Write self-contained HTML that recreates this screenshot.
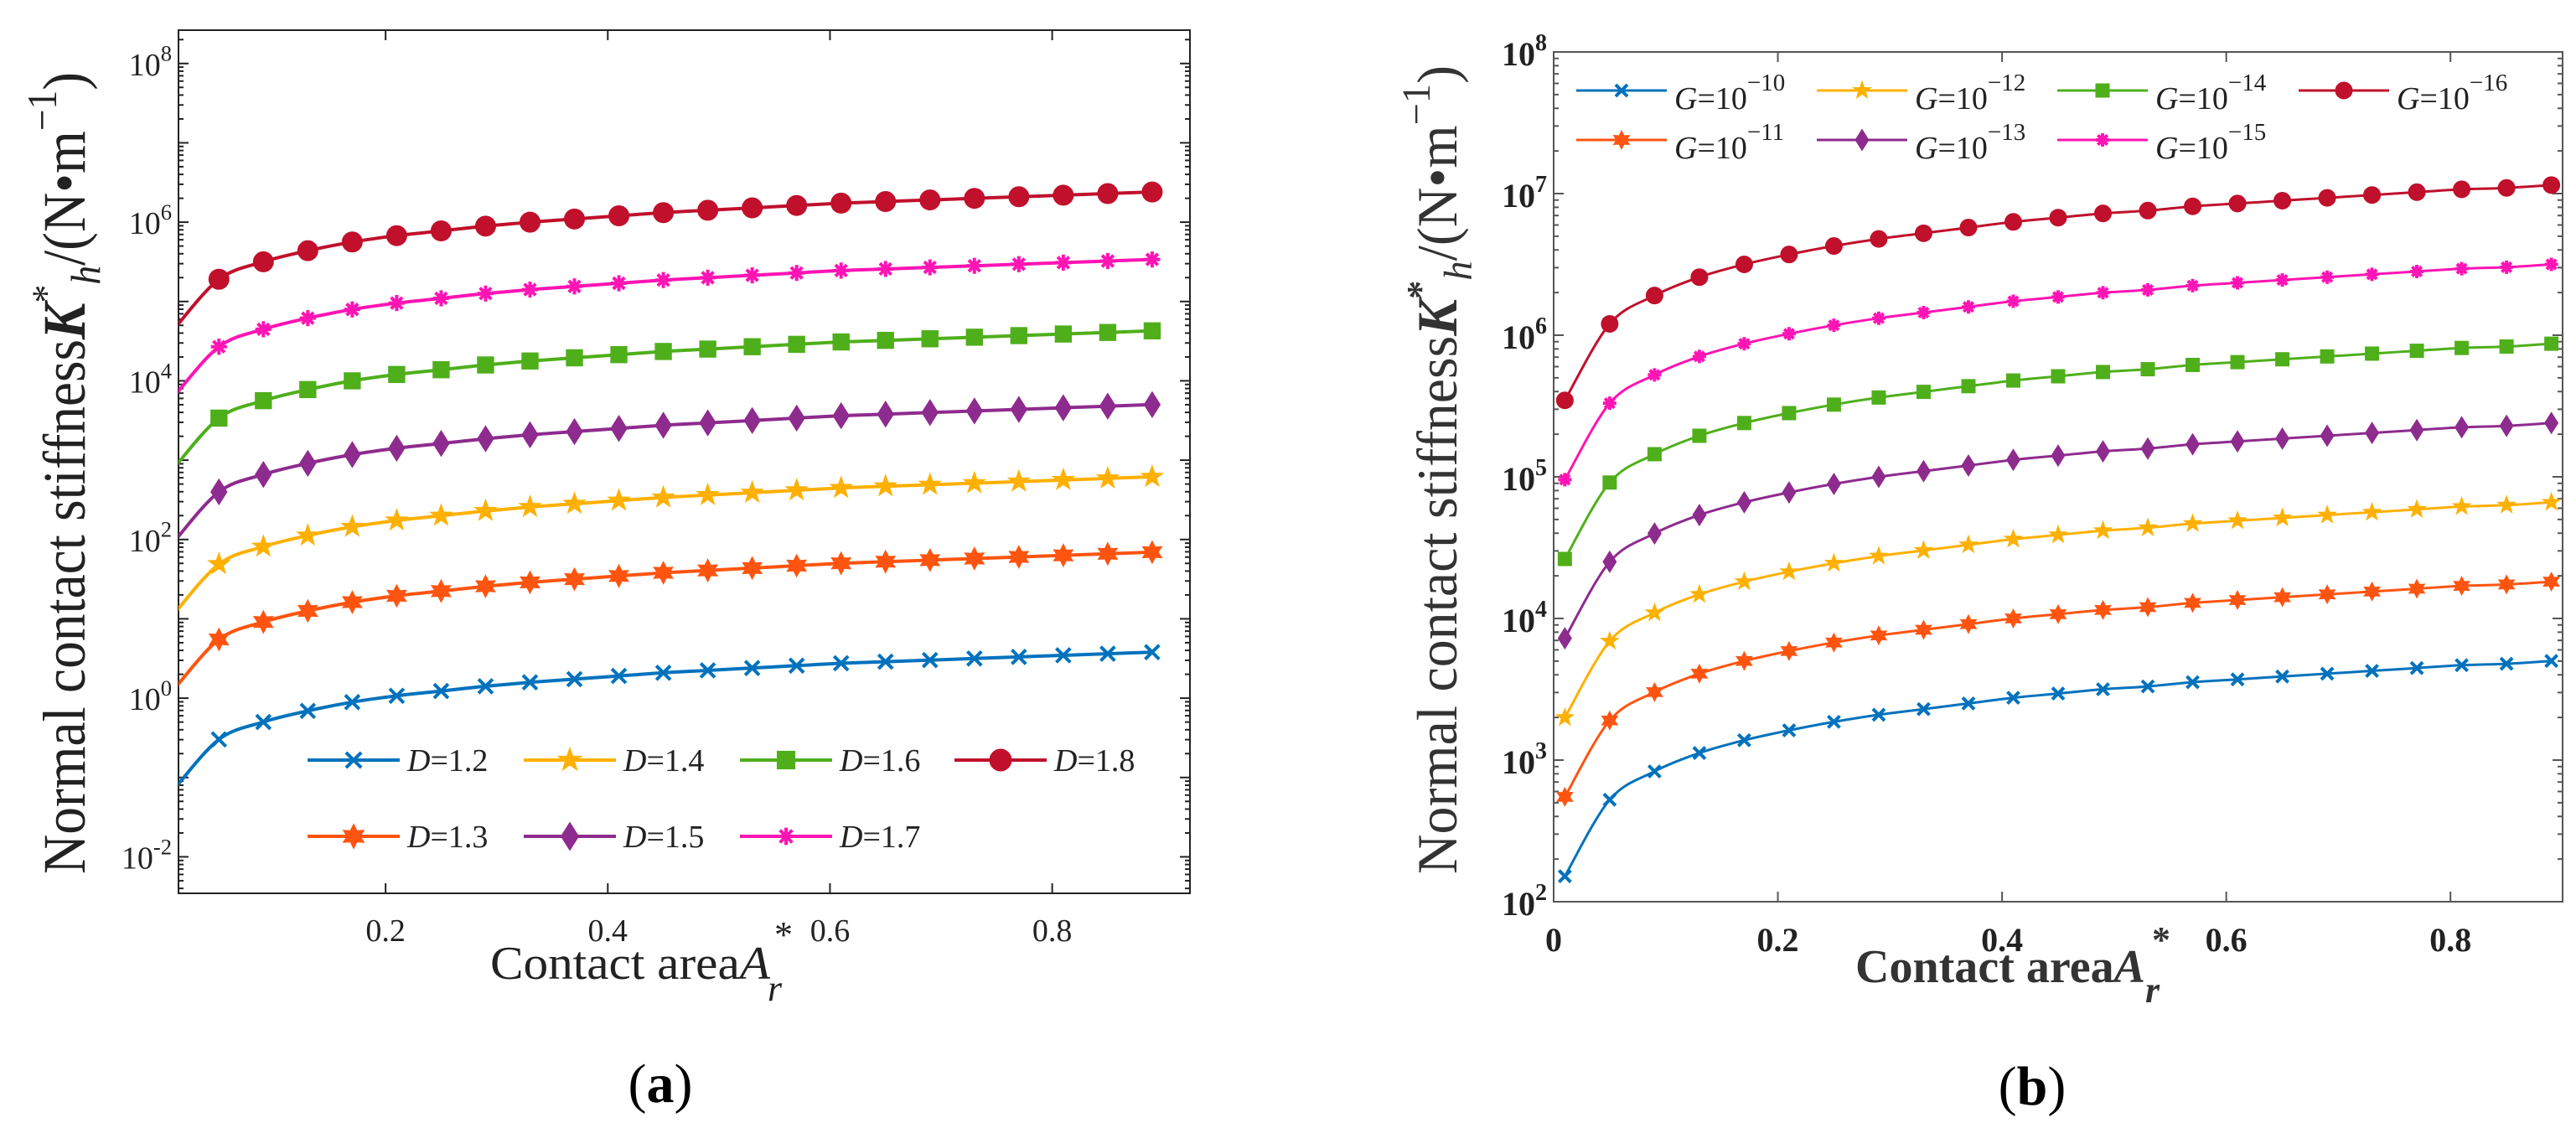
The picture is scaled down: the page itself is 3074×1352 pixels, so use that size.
<!DOCTYPE html>
<html><head><meta charset="utf-8">
<style>
html,body{margin:0;padding:0;background:#fff;}
svg{display:block;font-family:"Liberation Serif",serif;}
</style></head>
<body>
<svg id="fig" width="3074" height="1352" viewBox="0 0 3074 1352" xmlns="http://www.w3.org/2000/svg">
<defs>
<clipPath id="clipA"><rect x="213" y="36" width="1207" height="1030"/></clipPath>
<clipPath id="clipB"><rect x="1854" y="62" width="1204" height="1014"/></clipPath>
</defs>
<g id="panelA"></g>
<g id="panelB"></g>
</svg>
<script>
// ---- shared data ----
const xValues = [0.01,0.05,0.09,0.13,0.17,0.21,0.25,0.29,0.33,0.37,0.41,0.45,0.49,0.53,0.57,0.61,0.65,0.69,0.73,0.77,0.81,0.85,0.89];
// ---- panel (a): log10 of K*h per D ----
const seriesA_names = ["D=1.2","D=1.3","D=1.4","D=1.5","D=1.6","D=1.7","D=1.8"];
const logK_D12 = [-1.14,-0.52,-0.30,-0.16,-0.05,0.03,0.09,0.15,0.20,0.24,0.28,0.32,0.35,0.38,0.41,0.44,0.46,0.48,0.50,0.52,0.54,0.56,0.58];
const logK_D13 = [0.12,0.74,0.96,1.10,1.21,1.29,1.35,1.41,1.46,1.50,1.54,1.58,1.61,1.64,1.67,1.70,1.72,1.74,1.76,1.78,1.80,1.82,1.84];
const logK_D14 = [1.07,1.69,1.91,2.05,2.16,2.24,2.30,2.36,2.41,2.45,2.49,2.53,2.56,2.59,2.62,2.65,2.67,2.69,2.71,2.73,2.75,2.77,2.79];
const logK_D15 = [1.98,2.60,2.82,2.96,3.07,3.15,3.21,3.27,3.32,3.36,3.40,3.44,3.47,3.50,3.53,3.56,3.58,3.60,3.62,3.64,3.66,3.68,3.70];
const logK_D16 = [2.91,3.53,3.75,3.89,4.00,4.08,4.14,4.20,4.25,4.29,4.33,4.37,4.40,4.43,4.46,4.49,4.51,4.53,4.55,4.57,4.59,4.61,4.63];
const logK_D17 = [3.81,4.43,4.65,4.79,4.90,4.98,5.04,5.10,5.15,5.19,5.23,5.27,5.30,5.33,5.36,5.39,5.41,5.43,5.45,5.47,5.49,5.51,5.53];
const logK_D18 = [4.66,5.28,5.50,5.64,5.75,5.83,5.89,5.95,6.00,6.04,6.08,6.12,6.15,6.18,6.21,6.24,6.26,6.28,6.30,6.32,6.34,6.36,6.38];
const yTicksA = [-2,0,2,4,6,8];
const xTicksA = [0.2,0.4,0.6,0.8];
// ---- panel (b): log10 of K*h per G ----
const seriesB_exps = ["-10","-11","-12","-13","-14","-15","-16"];
const logK_G10 = [2.18,2.72,2.92,3.05,3.14,3.21,3.27,3.32,3.36,3.40,3.44,3.47,3.50,3.52,3.55,3.57,3.59,3.61,3.63,3.65,3.67,3.68,3.70];
const logK_G11 = [2.74,3.28,3.48,3.61,3.70,3.77,3.83,3.88,3.92,3.96,4.00,4.03,4.06,4.08,4.11,4.13,4.15,4.17,4.19,4.21,4.23,4.24,4.26];
const logK_G12 = [3.30,3.84,4.04,4.17,4.26,4.33,4.39,4.44,4.48,4.52,4.56,4.59,4.62,4.64,4.67,4.69,4.71,4.73,4.75,4.77,4.79,4.80,4.82];
const logK_G13 = [3.86,4.40,4.60,4.73,4.82,4.89,4.95,5.00,5.04,5.08,5.12,5.15,5.18,5.20,5.23,5.25,5.27,5.29,5.31,5.33,5.35,5.36,5.38];
const logK_G14 = [4.42,4.96,5.16,5.29,5.38,5.45,5.51,5.56,5.60,5.64,5.68,5.71,5.74,5.76,5.79,5.81,5.83,5.85,5.87,5.89,5.91,5.92,5.94];
const logK_G15 = [4.98,5.52,5.72,5.85,5.94,6.01,6.07,6.12,6.16,6.20,6.24,6.27,6.30,6.32,6.35,6.37,6.39,6.41,6.43,6.45,6.47,6.48,6.50];
const logK_G16 = [5.54,6.08,6.28,6.41,6.50,6.57,6.63,6.68,6.72,6.76,6.80,6.83,6.86,6.88,6.91,6.93,6.95,6.97,6.99,7.01,7.03,7.04,7.06];
const yTicksB = [2,3,4,5,6,7,8];
const xTicksB = [0,0.2,0.4,0.6,0.8];

const colors = ["#0072BD","#FF5410","#FFB000","#8E2B8E","#4FAF1B","#FF14B4","#C0102C"];
const markers = ["x","hex","star","diamond","square","asterisk","circle"];

const NS = "http://www.w3.org/2000/svg";
function el(tag, attrs, parent){
  const e = document.createElementNS(NS, tag);
  for (const k in attrs) e.setAttribute(k, attrs[k]);
  if (parent) parent.appendChild(e);
  return e;
}

function marker(g, type, cx, cy, s, color){
  let m;
  if (type === "circle") m = el("circle",{cx:cx,cy:cy,r:s,fill:color,stroke:color},g);
  else if (type === "square") m = el("rect",{x:cx-s*0.85,y:cy-s*0.85,width:s*1.7,height:s*1.7,fill:color},g);
  else if (type === "diamond") m = el("polygon",{points:`${cx},${cy-s*1.35} ${cx+s*0.85},${cy} ${cx},${cy+s*1.35} ${cx-s*0.85},${cy}`,fill:color},g);
  else if (type === "star"){
    let p=[];for(let i=0;i<10;i++){const r=i%2?s*0.5:s*1.25;const a=-Math.PI/2+i*Math.PI/5;p.push((cx+r*Math.cos(a)).toFixed(1)+","+(cy+r*Math.sin(a)).toFixed(1));}
    m = el("polygon",{points:p.join(" "),fill:color},g);
  } else if (type === "hex"){
    let p=[];for(let i=0;i<12;i++){const r=i%2?s*0.65:s*1.2;const a=-Math.PI/2+i*Math.PI/6;p.push((cx+r*Math.cos(a)).toFixed(1)+","+(cy+r*Math.sin(a)).toFixed(1));}
    m = el("polygon",{points:p.join(" "),fill:color},g);
  } else if (type === "x"){
    const d=s*0.7;
    m = el("path",{d:`M${cx-d},${cy-d}L${cx+d},${cy+d}M${cx-d},${cy+d}L${cx+d},${cy-d}`,stroke:color,"stroke-width":4,fill:"none"},g);
  } else if (type === "asterisk"){
    const d=s*0.8;let path="";
    for(let i=0;i<4;i++){const a=i*Math.PI/4;path+=`M${cx-d*Math.sin(a)},${cy-d*Math.cos(a)}L${cx+d*Math.sin(a)},${cy+d*Math.cos(a)}`;}
    m = el("path",{d:path,stroke:color,"stroke-width":4,fill:"none"},g);
  }
  return m;
}

function smoothPath(P){
  let d = `M${P[0][0].toFixed(1)},${P[0][1].toFixed(1)}`;
  for (let i=0;i<P.length-1;i++){
    const p0=P[Math.max(0,i-1)],p1=P[i],p2=P[i+1],p3=P[Math.min(P.length-1,i+2)];
    const c1x=p1[0]+(p2[0]-p0[0])/6, c1y=p1[1]+(p2[1]-p0[1])/6;
    const c2x=p2[0]-(p3[0]-p1[0])/6, c2y=p2[1]-(p3[1]-p1[1])/6;
    d += `C${c1x.toFixed(1)},${c1y.toFixed(1)} ${c2x.toFixed(1)},${c2y.toFixed(1)} ${p2[0].toFixed(1)},${p2[1].toFixed(1)}`;
  }
  return d;
}

function drawPanel(cfg){
  const g = cfg.root;
  const X = v => cfg.x0 + (v-cfg.xmin)/(cfg.xmax-cfg.xmin)*(cfg.x1-cfg.x0);
  const Y = v => cfg.y1 - (v-cfg.ymin)/(cfg.ymax-cfg.ymin)*(cfg.y1-cfg.y0);
  const box = el("rect",{x:cfg.x0,y:cfg.y0,width:cfg.x1-cfg.x0,height:cfg.y1-cfg.y0,fill:"none",stroke:cfg.axisColor,"stroke-width":2},g);
  
  
  const tg = el("g",{stroke:cfg.axisColor,"stroke-width":2},g);
  
  
  for (let d=Math.floor(cfg.ymin); d<cfg.ymax; d++){
    for (let k=1;k<10;k++){
      const lv = d+Math.log10(k);
      if (lv<cfg.ymin||lv>cfg.ymax) continue;
      const len = k===1?12:6;
      const y = Y(lv);
      el("line",{x1:cfg.x0,y1:y,x2:cfg.x0+len,y2:y},tg);
      el("line",{x1:cfg.x1,y1:y,x2:cfg.x1-len,y2:y},tg);
    }
  }
  cfg.xTicks.forEach(t=>{
    const x=X(t);
    el("line",{x1:x,y1:cfg.y1,x2:x,y2:cfg.y1-12},tg);
    el("line",{x1:x,y1:cfg.y0,x2:x,y2:cfg.y0+12},tg);
  });
  cfg.yTicks.forEach(t=>{
    const tx = el("text",{x:cfg.yLabelX,y:Y(t)+cfg.yLabelDy,"text-anchor":"end","font-size":cfg.tickFont,fill:cfg.textColor,"font-weight":cfg.tickWeight},g);
    
    
    const a=el("tspan",{},tx); a.textContent="10";
    const b=el("tspan",{dy:-cfg.tickFont*0.45,"font-size":cfg.tickFont*0.7},tx); b.textContent=String(t);
  });
  cfg.xTicks.forEach(t=>{
    const tx = el("text",{x:X(t),y:cfg.xLabelY,"text-anchor":"middle","font-size":cfg.tickFont,fill:cfg.textColor,"font-weight":cfg.tickWeight},g);
    
    
    tx.textContent = String(t);
  });
  const sg = el("g",{"clip-path":`url(#${cfg.clip})`},g);
  cfg.series.forEach((s,i)=>{
    const P = xValues.map((xv,j)=>[X(xv),Y(s[j])]);
    const line = el("path",{d:smoothPath(P),fill:"none",stroke:colors[i],"stroke-width":cfg.lw,"stroke-linejoin":"round"},sg);
    
    
    const mg = el("g",{},sg);
    
    
    xValues.forEach((xv,j)=>{
      if (xv<cfg.xmin) return;
      marker(mg, markers[i], X(xv), Y(s[j]), cfg.ms, colors[i]);
    });
  });
}

const gA = document.getElementById("panelA");
drawPanel({root:gA,x0:213,x1:1420,y0:36,y1:1066,xmin:0.0136,xmax:0.924,ymin:-2.46,ymax:8.42,
  xTicks:xTicksA,yTicks:yTicksA,tickFont:38,tickWeight:"normal",yLabelX:205,yLabelDy:14,xLabelY:1123,
  axisColor:"#222",textColor:"#222",clip:"clipA",lw:4,ms:12,
  series:[logK_D12,logK_D13,logK_D14,logK_D15,logK_D16,logK_D17,logK_D18],
  ids:["d12","d13","d14","d15","d16","d17","d18"]});
const gB = document.getElementById("panelB");
drawPanel({root:gB,x0:1854,x1:3058,y0:62,y1:1076,xmin:0,xmax:0.9,ymin:2,ymax:8,
  xTicks:xTicksB,yTicks:yTicksB,tickFont:40,tickWeight:"bold",yLabelX:1846,yLabelDy:16,xLabelY:1135,
  axisColor:"#555",textColor:"#222",clip:"clipB",lw:3,ms:10,
  series:[logK_G10,logK_G11,logK_G12,logK_G13,logK_G14,logK_G15,logK_G16],
  ids:["g10","g11","g12","g13","g14","g15","g16"]});

const legA = el("g",{},gA);


const legPosA = [[367,907],[367,998],[625,907],[625,998],[883,907],[883,998],[1139,907]];
seriesA_names.forEach((n,i)=>{
  const [lx,ly]=legPosA[i];
  const eg = el("g",{},legA);
  
  
  el("line",{x1:lx,y1:ly,x2:lx+110,y2:ly,stroke:colors[i],"stroke-width":4},eg);
  marker(eg,markers[i],lx+55,ly,13,colors[i]);
  const t = el("text",{x:lx+119,y:ly+13,"font-size":38,fill:"#222"},eg);
  const a=el("tspan",{"font-style":"italic"},t); a.textContent="D";
  const b=el("tspan",{},t); b.textContent=n.slice(1);
});
const legB = el("g",{},gB);


const legPosB = [[1881,108],[1881,167],[2168,108],[2168,167],[2455,108],[2455,167],[2743,108]];
seriesB_exps.forEach((n,i)=>{
  const [lx,ly]=legPosB[i];
  const eg = el("g",{},legB);
  
  
  el("line",{x1:lx,y1:ly,x2:lx+108,y2:ly,stroke:colors[i],"stroke-width":3},eg);
  marker(eg,markers[i],lx+54,ly,10,colors[i]);
  const t = el("text",{x:lx+117,y:ly+22,"font-size":38,fill:"#222"},eg);
  const a=el("tspan",{"font-style":"italic"},t); a.textContent="G";
  const b=el("tspan",{},t); b.textContent="=10";
  const c=el("tspan",{dy:-22,"font-size":29},t); c.textContent="\u2212"+n.slice(1);
});
</script>
<svg width="3074" height="1352" style="position:absolute;left:0;top:0" viewBox="0 0 3074 1352" font-family="Liberation Serif, serif">
  <text transform="translate(101,1043) rotate(-90)" font-size="72" fill="#222" textLength="957" lengthAdjust="spacingAndGlyphs">Normal contact stiffness<tspan font-style="italic" font-weight="bold">K</tspan><tspan dy="-30" font-size="48">*</tspan><tspan dy="48" font-size="50" font-style="italic">h</tspan><tspan dy="-18">/(N•m</tspan><tspan dy="-34" font-size="50">−1</tspan><tspan dy="34">)</tspan></text>
  <text transform="translate(1738,1043) rotate(-90)" font-size="68" fill="#333" textLength="965" lengthAdjust="spacingAndGlyphs">Normal contact stiffness<tspan font-style="italic" font-weight="bold">K</tspan><tspan dy="-28" font-size="46" font-weight="bold">*</tspan><tspan dy="46" font-size="48" font-style="italic">h</tspan><tspan dy="-18">/(N•m</tspan><tspan dy="-32" font-size="48">−1</tspan><tspan dy="32">)</tspan></text>
  <text x="585" y="1168" font-size="56" fill="#222" textLength="334" lengthAdjust="spacingAndGlyphs">Contact area<tspan font-style="italic">A</tspan></text>
  <text x="924" y="1130" font-size="44" fill="#222">*</text>
  <text x="916" y="1194" font-size="44" font-style="italic" fill="#222">r</text>
  <text x="2214" y="1172" font-size="56" font-weight="bold" fill="#333" textLength="346" lengthAdjust="spacingAndGlyphs">Contact  area<tspan font-style="italic">A</tspan></text>
  <text x="2568" y="1136" font-size="44" font-weight="bold" fill="#333">*</text>
  <text x="2560" y="1196" font-size="44" font-weight="bold" font-style="italic" fill="#333">r</text>
  <text x="788" y="1315" font-size="66" text-anchor="middle" fill="#000">(<tspan font-weight="bold">a</tspan>)</text>
  <text x="2425" y="1318" font-size="66" text-anchor="middle" fill="#000">(<tspan font-weight="bold">b</tspan>)</text>
</svg>
</body></html>
